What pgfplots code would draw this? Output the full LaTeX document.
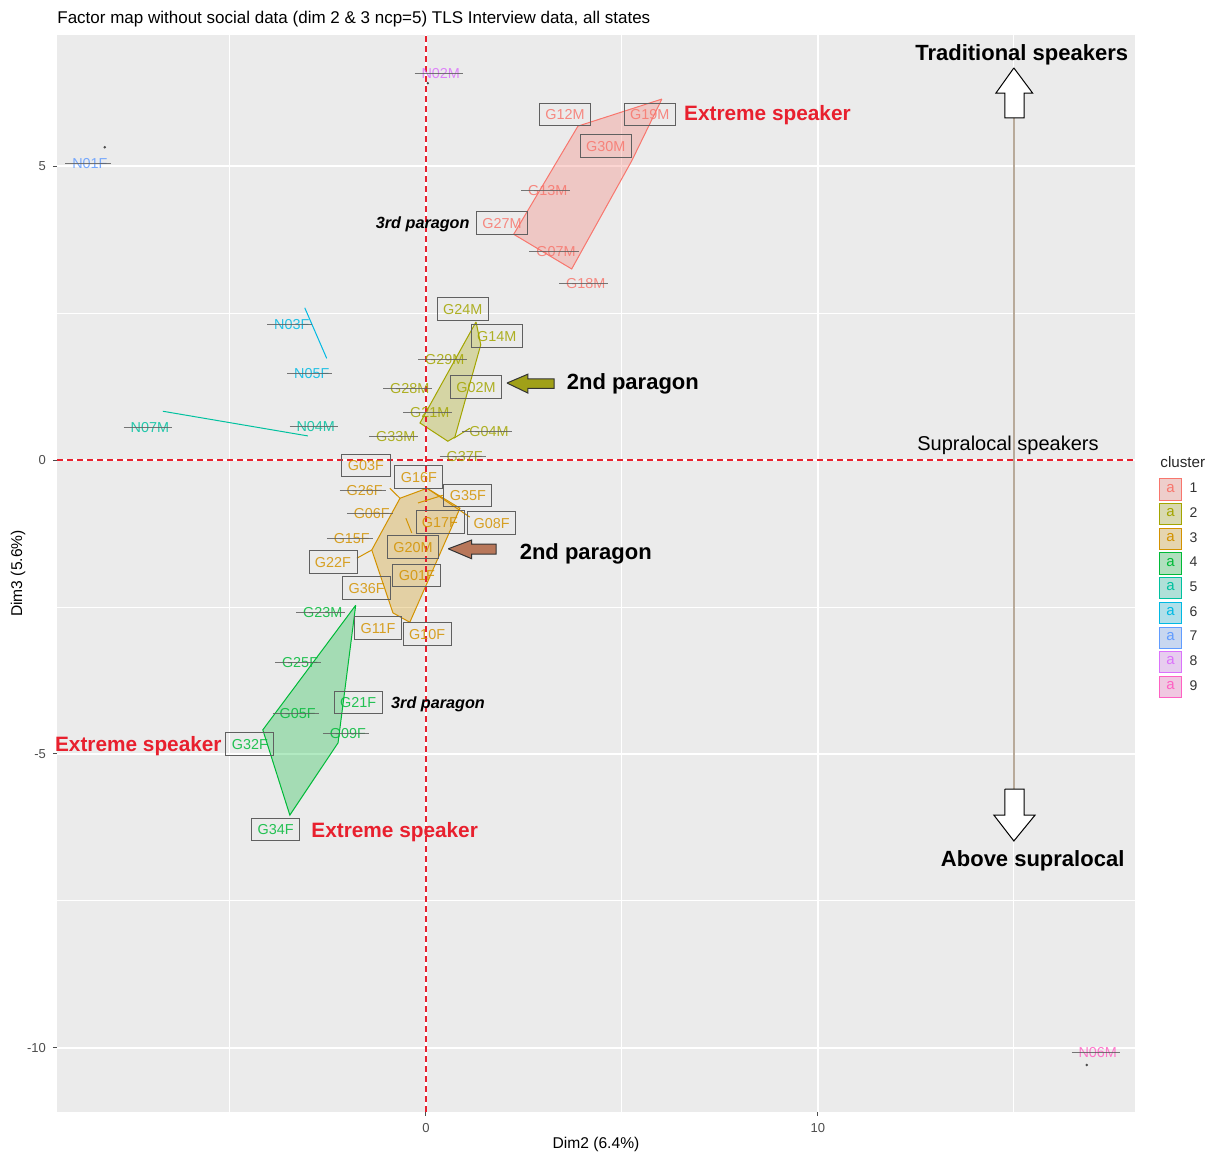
\documentclass[border=0pt]{standalone}
\usepackage{fontspec}
\setmainfont{Liberation Sans}
\usepackage{pgfplots}
\pgfplotsset{compat=1.18}

\definecolor{ggpanel}{HTML}{EBEBEB}
\definecolor{c1}{HTML}{F8766D}
\definecolor{c2}{HTML}{A3A500}
\definecolor{c3}{HTML}{D39200}
\definecolor{c4}{HTML}{00BA38}
\definecolor{c5}{HTML}{00C19F}
\definecolor{c6}{HTML}{00B9E3}
\definecolor{c7}{HTML}{619CFF}
\definecolor{c8}{HTML}{DB72FB}
\definecolor{c9}{HTML}{FF61C3}
\definecolor{extreme}{HTML}{E8202E}
\definecolor{zeroline}{HTML}{E8202E}
\definecolor{tanline}{HTML}{B8AA9A}
\definecolor{olivearrow}{HTML}{A0A018}
\definecolor{brownarrow}{HTML}{B8775A}
\definecolor{ticktext}{HTML}{4D4D4D}
\definecolor{strike}{HTML}{606060}

\newcommand{\labfont}{\fontsize{7.2}{8.5}\selectfont}
\newsavebox\strkbox
% label text with a horizontal segment drawn through it
\newcommand{\strk}[1]{\sbox\strkbox{#1}\usebox\strkbox\kern1.5pt%
  \llap{\textcolor{strike}{\rule[2.3pt]{\dimexpr\wd\strkbox+5pt\relax}{0.5pt}}}\kern-1.5pt}

\pgfplotsset{
  boxlab/.style={nodes near coords, point meta=explicit symbolic, mark=none, draw=none,
    every node near coord/.append style={anchor=center, font=\labfont, text=#1, text opacity=0.85,
      draw=gray!75!black, line width=0.4pt, inner xsep=3pt, inner ysep=3pt,
      text height=5.3pt, text depth=0pt}},
  strlab/.style={nodes near coords={\strk{\pgfplotspointmeta}}, point meta=explicit symbolic, mark=none, draw=none,
    every node near coord/.append style={anchor=center, font=\labfont, text=#1, text opacity=0.85,
      inner sep=0pt, text height=5.3pt, text depth=0pt}},
  hull/.style={draw=#1, fill=#1, fill opacity=0.3, line width=0.5pt},
  clkey/.style={legend image code/.code={
    \node[draw=#1, fill=#1!25!ggpanel, text=#1, minimum size=10.6pt, inner sep=0pt,
      line width=0.5pt, font=\fontsize{7.5}{8}\selectfont] at (5.5pt,0) {a};}},
}

\begin{document}
\begin{tikzpicture}
\begin{axis}[
  name=ax,
  scale only axis,
  width=539pt, height=538.5pt,
  xmin=-9.41, xmax=18.09, ymin=-11.09, ymax=7.23,
  axis background/.style={fill=ggpanel},
  axis line style={draw=none},
  xtick={0,10}, ytick={-10,-5,0,5},
  minor xtick={-5,5,15}, minor ytick={-7.5,-2.5,2.5},
  grid=both,
  major grid style={white, line width=1pt},
  minor grid style={white, line width=0.5pt},
  tick align=outside, xtick pos=left, ytick pos=left,
  major tick length=2pt, minor tick length=0pt,
  tick style={ticktext, line width=0.5pt},
  ticklabel style={font=\fontsize{6.5}{7}\selectfont, text=ticktext},
  /pgf/number format/assume math mode=true,
  clip=false,
  title={Factor map without social data (dim 2 \& 3 ncp=5) TLS Interview data, all states},
  every axis title/.style={at={(0,1)}, anchor=base west, inner sep=0pt, yshift=5.5pt, font=\fontsize{8.5}{10}\selectfont},
  xlabel={Dim2 (6.4\%)}, ylabel={Dim3 (5.6\%)},
  xlabel style={at={(axis description cs:0.5,-0.0306)}, anchor=center, font=\fontsize{7.8}{9}\selectfont},
  ylabel style={at={(axis description cs:-0.0362,0.5)}, anchor=center, font=\fontsize{7.8}{9}\selectfont},
  legend style={at={(axis description cs:1.0223,0.5887)}, anchor=north west, draw=none, fill=none,
    inner sep=0pt, row sep=1.25pt, font=\fontsize{7}{8}\selectfont, nodes={inner sep=1.5pt, text=black!80}},
  legend cell align=left,
]
% legend keys first
\addlegendimage{clkey=c1}\addlegendentry{\hspace{2.5pt}1}
\addlegendimage{clkey=c2}\addlegendentry{\hspace{2.5pt}2}
\addlegendimage{clkey=c3}\addlegendentry{\hspace{2.5pt}3}
\addlegendimage{clkey=c4}\addlegendentry{\hspace{2.5pt}4}
\addlegendimage{clkey=c5}\addlegendentry{\hspace{2.5pt}5}
\addlegendimage{clkey=c6}\addlegendentry{\hspace{2.5pt}6}
\addlegendimage{clkey=c7}\addlegendentry{\hspace{2.5pt}7}
\addlegendimage{clkey=c8}\addlegendentry{\hspace{2.5pt}8}
\addlegendimage{clkey=c9}\addlegendentry{\hspace{2.5pt}9}

% cluster hulls
\addplot[hull=c1] coordinates {(6.02,6.14) (3.88,5.68) (2.24,3.84) (3.72,3.25) (5.26,5.10) (6.02,6.14)};
\addplot[hull=c2] coordinates {(1.28,2.35) (1.40,1.96) (0.74,0.39) (0.56,0.32) (-0.15,0.63) (1.28,2.35)};
\addplot[hull=c3] coordinates {(0.03,-0.48) (0.87,-0.82) (-0.41,-2.76) (-0.84,-2.60) (-1.38,-1.53) (-0.66,-0.65) (0.03,-0.48)};
\addplot[hull=c4] coordinates {(-1.79,-2.47) (-2.24,-4.81) (-3.47,-6.04) (-4.16,-4.59) (-1.79,-2.47)};

% reference lines
\addplot[draw=zeroline, line width=0.9pt, dash pattern=on 3pt off 2pt] coordinates {(-9.41,0) (18.09,0)};
\addplot[draw=zeroline, line width=0.9pt, dash pattern=on 3pt off 2pt] coordinates {(0,-11.09) (0,7.23)};
\addplot[draw=tanline, line width=1pt] coordinates {(15,5.82) (15,-5.60)};

% label segments
\addplot[c6, line width=0.5pt] coordinates {(-3.09,2.59) (-2.53,1.73)};
\addplot[c5, line width=0.5pt] coordinates {(-6.71,0.83) (-3.01,0.41)};
\addplot[c2, line width=0.5pt] coordinates {(0.71,0.37) (1.12,0.54)};
\addplot[c3, line width=0.5pt] coordinates {(0.03,-0.48) (1.12,-0.97)};
\addplot[c3, line width=0.5pt] coordinates {(-0.20,-0.73) (0.43,-0.60)};
\addplot[c3, line width=0.5pt] coordinates {(-0.92,-0.48) (-0.66,-0.65)};
\addplot[c3, line width=0.5pt] coordinates {(-1.76,-1.67) (-1.38,-1.53)};
\addplot[c3, line width=0.5pt] coordinates {(-0.51,-0.99) (-0.36,-1.24)};
\addplot[only marks, mark=*, mark size=0.4pt, gray!60!black] coordinates {(-8.19,5.32) (0.05,6.41) (16.86,-10.29)};

% labels, cluster 1
\addplot[boxlab=c1] table[meta=lab] {
x y lab
3.55 5.88 G12M
5.71 5.88 G19M
4.59 5.34 G30M
1.94 4.03 G27M
};
\addplot[strlab=c1] table[meta=lab] {
x y lab
3.11 4.59 G13M
3.32 3.55 G07M
4.08 3.01 G18M
};
% cluster 2
\addplot[boxlab=c2] table[meta=lab] {
x y lab
0.94 2.57 G24M
1.81 2.11 G14M
1.28 1.24 G02M
};
\addplot[strlab=c2] table[meta=lab] {
x y lab
0.48 1.72 G29M
-0.41 1.22 G28M
0.10 0.82 G21M
-0.77 0.41 G33M
1.61 0.49 G04M
0.99 0.07 G37F
};
% cluster 3
\addplot[boxlab=c3] table[meta=lab] {
x y lab
-1.53 -0.09 G03F
-0.18 -0.29 G16F
1.07 -0.60 G35F
0.36 -1.05 G17F
1.68 -1.07 G08F
-0.33 -1.48 G20M
-2.37 -1.73 G22F
-0.23 -1.96 G01F
-1.51 -2.18 G36F
-1.22 -2.86 G11F
0.03 -2.96 G10F
};
\addplot[strlab=c3] table[meta=lab] {
x y lab
-1.56 -0.51 G26F
-1.38 -0.90 G06F
-1.89 -1.33 G15F
};
% cluster 4
\addplot[boxlab=c4] table[meta=lab] {
x y lab
-1.73 -4.12 G21F
-4.49 -4.83 G32F
-3.83 -6.28 G34F
};
\addplot[strlab=c4] table[meta=lab] {
x y lab
-2.63 -2.59 G23M
-3.21 -3.44 G25F
-3.27 -4.30 G05F
-1.99 -4.64 G09F
};
% clusters 5 to 9
\addplot[strlab=c5] table[meta=lab] {
x y lab
-7.04 0.56 N07M
-2.81 0.58 N04M
};
\addplot[strlab=c6] table[meta=lab] {
x y lab
-3.42 2.31 N03F
-2.91 1.48 N05F
};
\addplot[strlab=c7] table[meta=lab] {
x y lab
-8.57 5.05 N01F
};
\addplot[strlab=c8] table[meta=lab] {
x y lab
0.38 6.58 N02M
};
\addplot[strlab=c9] table[meta=lab] {
x y lab
17.14 -10.07 N06M
};

% block arrows
\addplot[fill=white, draw=black, line width=0.5pt] coordinates {(15.0,6.67) (15.48,6.24) (15.26,6.24) (15.26,5.82) (14.77,5.82) (14.77,6.24) (14.54,6.24) (15.0,6.67)};
\addplot[fill=white, draw=black, line width=0.5pt] coordinates {(14.77,-5.60) (15.26,-5.60) (15.26,-6.04) (15.54,-6.04) (15.0,-6.48) (14.49,-6.04) (14.77,-6.04) (14.77,-5.60)};
\addplot[fill=olivearrow, draw=black!80, line width=0.5pt] coordinates {(2.07,1.31) (2.60,1.46) (2.60,1.38) (3.27,1.38) (3.27,1.22) (2.60,1.22) (2.60,1.14) (2.07,1.31)};
\addplot[fill=brownarrow, draw=black!80, line width=0.5pt] coordinates {(0.57,-1.51) (1.17,-1.36) (1.17,-1.43) (1.79,-1.43) (1.79,-1.60) (1.17,-1.60) (1.17,-1.68) (0.57,-1.51)};

% annotations
\node[anchor=west, inner sep=0pt, text=extreme, font=\fontsize{10.4}{12}\selectfont\bfseries] at (axis cs:6.58,5.86) {Extreme speaker};
\node[anchor=east, inner sep=0pt, text=extreme, font=\fontsize{10.4}{12}\selectfont\bfseries] at (axis cs:-5.20,-4.87) {Extreme speaker};
\node[anchor=west, inner sep=0pt, text=extreme, font=\fontsize{10.4}{12}\selectfont\bfseries] at (axis cs:-2.93,-6.33) {Extreme speaker};
\node[inner sep=0pt, font=\fontsize{8.1}{10}\selectfont\bfseries\itshape] at (axis cs:-0.08,4.01) {3rd paragon};
\node[inner sep=0pt, font=\fontsize{8.1}{10}\selectfont\bfseries\itshape] at (axis cs:0.31,-4.16) {3rd paragon};
\node[inner sep=0pt, font=\fontsize{11}{13}\selectfont\bfseries] at (axis cs:5.28,1.29) {2nd paragon};
\node[inner sep=0pt, font=\fontsize{11}{13}\selectfont\bfseries] at (axis cs:4.08,-1.60) {2nd paragon};
\node[inner sep=0pt, font=\fontsize{11}{13}\selectfont\bfseries] at (axis cs:15.2,6.89) {Traditional speakers};
\node[inner sep=0pt, font=\fontsize{11}{13}\selectfont\bfseries] at (axis cs:15.48,-6.82) {Above supralocal};
\node[inner sep=0pt, font=\fontsize{10}{12}\selectfont] at (axis cs:14.85,0.25) {Supralocal speakers};
\node[anchor=west, inner sep=0pt, font=\fontsize{7.6}{9}\selectfont, text=black!85] at (axis description cs:1.0232,0.6035) {cluster};
\end{axis}
\pgfresetboundingbox
\path ([xshift=-28.5pt, yshift=-23pt]ax.south west) rectangle ([xshift=39pt, yshift=17.5pt]ax.north east);
\end{tikzpicture}
\end{document}
